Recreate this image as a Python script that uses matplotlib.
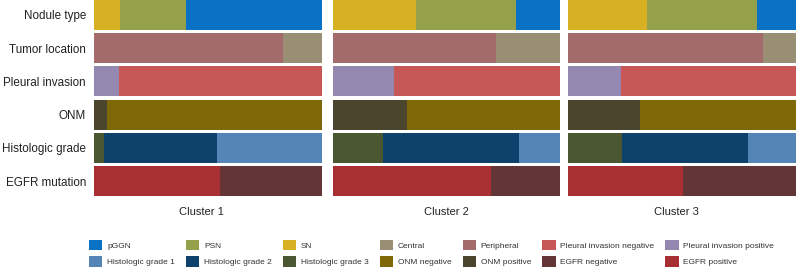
import matplotlib
matplotlib.use("Agg")
import matplotlib.pyplot as plt
from matplotlib.patches import Patch

plt.rcParams['font.family'] = ['Liberation Sans', 'DejaVu Sans']

clusters = ["Cluster 1", "Cluster 2", "Cluster 3"]
rows = ["Nodule type", "Tumor location", "Pleural invasion", "ONM",
        "Histologic grade", "EGFR mutation"]

# segment labels per row (left to right)
nodule_labels = ["SN", "PSN", "pGGN"]
location_labels = ["Peripheral", "Central"]
pleural_labels = ["Pleural invasion positive", "Pleural invasion negative"]
onm_labels = ["ONM positive", "ONM negative"]
grade_labels = ["Histologic grade 3", "Histologic grade 2", "Histologic grade 1"]
egfr_labels = ["EGFR positive", "EGFR negative"]

# proportions per cluster (cluster 1, 2, 3)
nodule_type = [[0.113, 0.290, 0.597], [0.366, 0.440, 0.194], [0.344, 0.485, 0.171]]
tumor_location = [[0.829, 0.171], [0.718, 0.282], [0.857, 0.143]]
pleural_invasion = [[0.109, 0.891], [0.268, 0.732], [0.230, 0.770]]
onm = [[0.056, 0.944], [0.327, 0.673], [0.315, 0.685]]
histologic_grade = [[0.043, 0.497, 0.460], [0.220, 0.600, 0.180], [0.237, 0.555, 0.208]]
egfr_mutation = [[0.554, 0.446], [0.696, 0.304], [0.502, 0.498]]

colors = {
    "pGGN": "#0a72c4", "PSN": "#95a04a", "SN": "#d8b024",
    "Central": "#9a8e74", "Peripheral": "#a36b6b",
    "Pleural invasion negative": "#c75757", "Pleural invasion positive": "#9488b0",
    "Histologic grade 1": "#5584b7", "Histologic grade 2": "#0e416b",
    "Histologic grade 3": "#4a5730", "ONM negative": "#7e6808",
    "ONM positive": "#4c452e", "EGFR negative": "#633536", "EGFR positive": "#a83033",
}

legend_row1 = ["pGGN", "PSN", "SN", "Central", "Peripheral",
               "Pleural invasion negative", "Pleural invasion positive"]
legend_row2 = ["Histologic grade 1", "Histologic grade 2", "Histologic grade 3",
               "ONM negative", "ONM positive", "EGFR negative", "EGFR positive"]

row_data = [(nodule_labels, nodule_type), (location_labels, tumor_location),
            (pleural_labels, pleural_invasion), (onm_labels, onm),
            (grade_labels, histologic_grade), (egfr_labels, egfr_mutation)]

W, H = 797, 271
fig = plt.figure(figsize=(W / 100, H / 100), dpi=100)
lefts = [94.3, 332.7, 568.3]
label_centers = [201, 446, 676]
pw = 227.5
bottom = 75
ph = 196

for ci, cname in enumerate(clusters):
    ax = fig.add_axes([lefts[ci] / W, bottom / H, pw / W, ph / H])
    for ri, (labels, data) in enumerate(row_data):
        left = 0.0
        for lab, v in zip(labels, data[ci]):
            ax.barh(ri, v, left=left, height=0.9, color=colors[lab], linewidth=0)
            left += v
    ax.set_xlim(0, 1)
    ax.set_ylim(5.45, -0.45)
    for s in ax.spines.values():
        s.set_visible(False)
    ax.set_xticks([])
    if ci == 0:
        ax.set_yticks(range(len(rows)))
        ax.set_yticklabels(rows, fontsize=8.4, color="#222222")
        ax.tick_params(axis='y', length=0, pad=6)
    else:
        ax.set_yticks([])
    fig.text(label_centers[ci] / W, 1 - 212 / H, cname, ha='center', va='center',
             fontsize=8, color="#222222")

handles = []
labels_order = []
for a, b in zip(legend_row1, legend_row2):
    for lab in (a, b):
        handles.append(Patch(facecolor=colors[lab], edgecolor='none'))
        labels_order.append(lab)

leg = fig.legend(handles, labels_order, ncol=7, loc='upper left',
                 bbox_to_anchor=(89 / W, 1 - 240 / H), borderaxespad=0, borderpad=0,
                 frameon=False, fontsize=6, handlelength=1.6, handleheight=1.56,
                 handletextpad=0.55, columnspacing=1.35, labelspacing=0.72,
                 labelcolor="#333333")

fig.savefig("out.png", dpi=100, facecolor='white')
